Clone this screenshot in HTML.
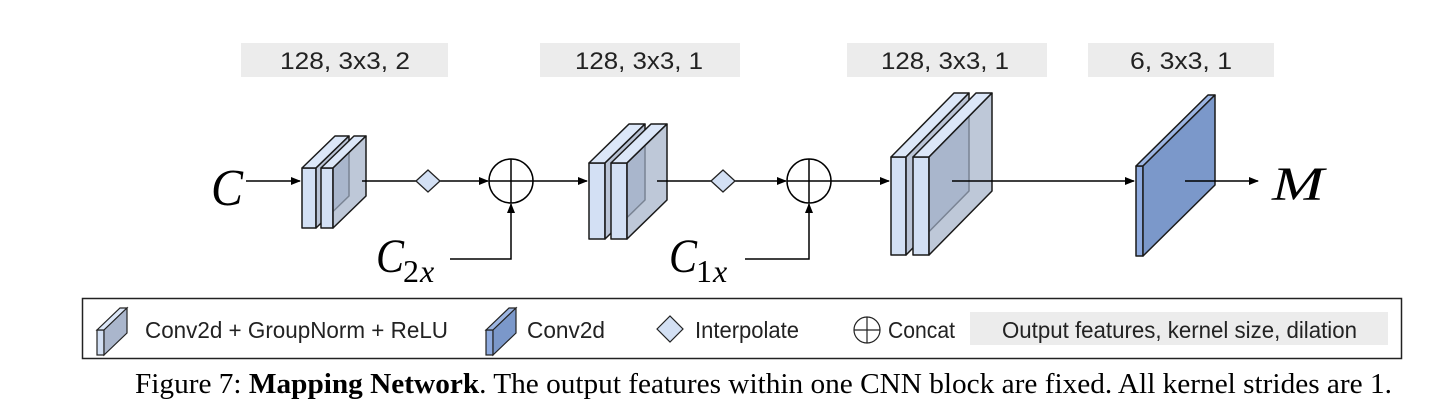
<!DOCTYPE html>
<html><head><meta charset="utf-8"><style>
html,body{margin:0;padding:0;background:#fff;}
svg{display:block;}
</style></head><body>
<svg width="1450" height="418" viewBox="0 0 1450 418" xmlns="http://www.w3.org/2000/svg">
<defs>
<marker id="ah" markerWidth="10" markerHeight="8" refX="9" refY="4" orient="auto" markerUnits="userSpaceOnUse">
<path d="M0,0 L10,4 L0,8 z" fill="#000"/>
</marker>
</defs>
<g font-family="Liberation Sans, sans-serif" font-size="24" fill="#222">
<rect x="241" y="43" width="207" height="34" fill="#ececec"/>
<text x="280" y="69" textLength="130" lengthAdjust="spacingAndGlyphs">128, 3x3, 2</text>
<rect x="540" y="43" width="200" height="34" fill="#ececec"/>
<text x="575" y="69" textLength="128" lengthAdjust="spacingAndGlyphs">128, 3x3, 1</text>
<rect x="847" y="43" width="200" height="34" fill="#ececec"/>
<text x="881" y="69" textLength="128" lengthAdjust="spacingAndGlyphs">128, 3x3, 1</text>
<rect x="1088" y="43" width="186" height="34" fill="#ececec"/>
<text x="1130" y="69" textLength="102" lengthAdjust="spacingAndGlyphs">6, 3x3, 1</text>
</g>
<g stroke="#1a1a1a" stroke-width="1.5" stroke-linejoin="round">
<rect x="302" y="168" width="14" height="60" fill="#d3e0f4"/>
<polygon points="302,168 316,168 349,136 335,136" fill="#dce7f8"/>
<polygon points="316,168 349,136 349,196 316,228" fill="#a3b0c8" fill-opacity="0.75"/>
<rect x="321" y="168" width="12" height="60" fill="#d3e0f4"/>
<polygon points="321,168 333,168 366,136 354,136" fill="#dce7f8"/>
<polygon points="333,168 366,136 366,196 333,228" fill="#a3b0c8" fill-opacity="0.7"/>
<rect x="589" y="163" width="16" height="76" fill="#d3e0f4"/>
<polygon points="589,163 605,163 645,124 629,124" fill="#dce7f8"/>
<polygon points="605,163 645,124 645,200 605,239" fill="#a3b0c8" fill-opacity="0.75"/>
<rect x="611" y="163" width="16" height="76" fill="#d3e0f4"/>
<polygon points="611,163 627,163 667,124 651,124" fill="#dce7f8"/>
<polygon points="627,163 667,124 667,200 627,239" fill="#a3b0c8" fill-opacity="0.7"/>
<rect x="891" y="157" width="15" height="98" fill="#d3e0f4"/>
<polygon points="891,157 906,157 969,93 954,93" fill="#dce7f8"/>
<polygon points="906,157 969,93 969,191 906,255" fill="#a3b0c8" fill-opacity="0.75"/>
<rect x="913" y="157" width="16" height="98" fill="#d3e0f4"/>
<polygon points="913,157 929,157 992,93 976,93" fill="#dce7f8"/>
<polygon points="929,157 992,93 992,191 929,255" fill="#a3b0c8" fill-opacity="0.7"/>
<rect x="1136" y="166" width="7" height="90" fill="#8eaade"/>
<polygon points="1136,166 1143,166 1215,95 1208,95" fill="#9cb5e2"/>
<polygon points="1143,166 1215,95 1215,185 1143,256" fill="#7b98ca"/>
</g>
<g stroke="#000" stroke-width="1.5" fill="none">
<line x1="246" y1="181" x2="300" y2="181" marker-end="url(#ah)"/>
<line x1="362" y1="181" x2="416" y2="181"/>
<line x1="440" y1="181" x2="488" y2="181" marker-end="url(#ah)"/>
<circle cx="511" cy="181" r="22"/>
<line x1="489" y1="181" x2="533" y2="181"/>
<line x1="511" y1="159" x2="511" y2="203"/>
<polyline points="450,259 511,259 511,204" marker-end="url(#ah)"/>
<line x1="533" y1="181" x2="587" y2="181" marker-end="url(#ah)"/>
<line x1="657" y1="181" x2="711" y2="181"/>
<line x1="735" y1="181" x2="786" y2="181" marker-end="url(#ah)"/>
<circle cx="809" cy="181" r="22"/>
<line x1="787" y1="181" x2="831" y2="181"/>
<line x1="809" y1="159" x2="809" y2="203"/>
<polyline points="745,259 809,259 809,204" marker-end="url(#ah)"/>
<line x1="831" y1="181" x2="889" y2="181" marker-end="url(#ah)"/>
<line x1="952" y1="181" x2="1134" y2="181" marker-end="url(#ah)"/>
<line x1="1185" y1="181" x2="1258" y2="181" marker-end="url(#ah)"/>
</g>
<g stroke="#222" stroke-width="1.3" fill="#d3e0f4">
<polygon points="416,181 428,170 440,181 428,192"/>
<polygon points="711,181 723,170 735,181 723,192"/>
</g>
<g font-family="Liberation Serif, serif" font-style="italic" fill="#000">
<text x="211" y="205" font-size="52" textLength="32" lengthAdjust="spacingAndGlyphs">C</text>
<text x="376" y="272" font-size="48" textLength="28" lengthAdjust="spacingAndGlyphs">C</text>
<text x="403" y="282" font-size="32" font-style="normal">2</text><text x="420" y="282" font-size="32">x</text>
<text x="669" y="272" font-size="48" textLength="28" lengthAdjust="spacingAndGlyphs">C</text>
<text x="696" y="282" font-size="32" font-style="normal">1</text><text x="713" y="282" font-size="32">x</text>
<text x="1272" y="200" font-size="48" textLength="52" lengthAdjust="spacingAndGlyphs">M</text>
</g>
<rect x="82.5" y="298.5" width="1319" height="60" fill="none" stroke="#222" stroke-width="1.5"/>
<g stroke="#222" stroke-width="1.2">
<rect x="97" y="330" width="7" height="25" fill="#d3e0f4"/>
<polygon points="97,330 104,330 127,308 120,308" fill="#dce7f8"/>
<polygon points="104,330 127,308 127,333 104,355" fill="#aab6cc"/>
<rect x="486" y="330" width="7" height="25" fill="#8eaade"/>
<polygon points="486,330 493,330 516,308 509,308" fill="#9cb5e2"/>
<polygon points="493,330 516,308 516,333 493,355" fill="#7b98ca"/>
<polygon points="657,329 670,316 683,329 670,342" fill="#d3e0f4"/>
<circle cx="867" cy="330" r="13" fill="none"/>
<line x1="854" y1="330" x2="880" y2="330"/>
<line x1="867" y1="317" x2="867" y2="343"/>
</g>
<rect x="970" y="312" width="418" height="33" fill="#ececec"/>
<g font-family="Liberation Sans, sans-serif" font-size="23" fill="#222">
<text x="145" y="338" textLength="303" lengthAdjust="spacingAndGlyphs">Conv2d + GroupNorm + ReLU</text>
<text x="527" y="338" textLength="78" lengthAdjust="spacingAndGlyphs">Conv2d</text>
<text x="695" y="338" textLength="104" lengthAdjust="spacingAndGlyphs">Interpolate</text>
<text x="888" y="338" textLength="67" lengthAdjust="spacingAndGlyphs">Concat</text>
<text x="1002" y="338" textLength="355" lengthAdjust="spacingAndGlyphs">Output features, kernel size, dilation</text>
</g>
<text x="135" y="393" font-family="Liberation Serif, serif" font-size="28" fill="#000" textLength="1257" lengthAdjust="spacingAndGlyphs">Figure 7: <tspan font-weight="bold">Mapping Network</tspan>. The output features within one CNN block are fixed. All kernel strides are 1.</text>
</svg>
</body></html>
